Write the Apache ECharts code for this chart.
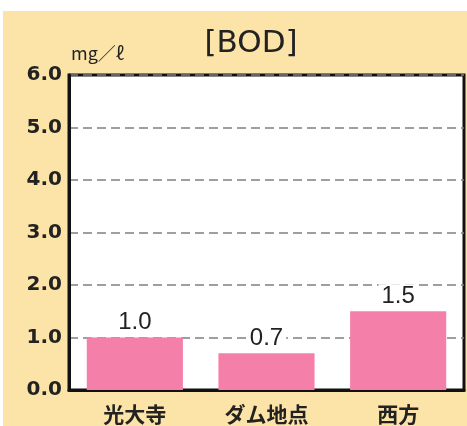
<!DOCTYPE html>
<html>
<head>
<meta charset="utf-8">
<script src="https://cdn.jsdelivr.net/npm/echarts@6/dist/echarts.min.js"></script>
<style>
  html, body { margin: 0; padding: 0; background: #fff; }
  #main { width: 467px; height: 426px; }
</style>
</head>
<body>
<div id="main"></div>
<script>
// 観測地点とBOD値
const categories = ['光大寺', 'ダム地点', '西方'];
const bodValues = [1.0, 0.7, 1.5];
const yTicks = [0, 1, 2, 3, 4, 5, 6];

const myChart = echarts.init(document.getElementById('main'));

const option = {
  backgroundColor: '#fff',
  animation: false,
  graphic: [
    {
      type: 'rect',
      z: -10,
      shape: { x: 3, y: 11, width: 470, height: 420 },
      style: { fill: '#FCE3A8' }
    },
    {
      type: 'text',
      x: 71, y: 53,
      style: { text: 'mg／ℓ', font: '18px "Noto Sans CJK JP"', fill: '#222', textVerticalAlign: 'middle' }
    },
    {
      type: 'text',
      x: 251, y: 44,
      style: { text: '[BOD]', font: '31px "DejaVu Sans"', fill: '#222', textAlign: 'center', textVerticalAlign: 'middle' }
    }
  ],
  grid: {
    left: 69, right: 3, top: 75, bottom: 36,
    show: true,
    backgroundColor: '#fff',
    borderColor: '#111',
    borderWidth: 3
  },
  xAxis: {
    type: 'category',
    data: categories,
    axisTick: { show: false },
    axisLine: { show: true, lineStyle: { color: '#111', width: 3 } },
    axisLabel: {
      color: '#222',
      fontSize: 21,
      fontWeight: 'bold',
      fontFamily: '"Noto Sans CJK JP"',
      margin: 14
    }
  },
  yAxis: {
    type: 'value',
    min: yTicks[0],
    max: yTicks[yTicks.length - 1],
    interval: 1,
    axisTick: { show: false },
    axisLine: { show: true, lineStyle: { color: '#111', width: 3 } },
    axisLabel: {
      color: '#222',
      fontSize: 20,
      fontWeight: 'bold',
      fontFamily: 'DejaVu Sans',
      margin: 7,
      formatter: v => v.toFixed(1)
    },
    splitLine: {
      lineStyle: { color: '#808080', type: [9, 5], width: 1.5 }
    }
  },
  series: [{
    type: 'bar',
    data: bodValues,
    barWidth: '73%',
    itemStyle: { color: '#F47FA9' },
    label: {
      show: true,
      position: 'top',
      distance: 3,
      color: '#222',
      fontSize: 24,
      fontFamily: 'Liberation Sans',
      backgroundColor: '#fff',
      padding: [0, 3],
      formatter: p => p.value.toFixed(1)
    }
  }]
};

myChart.setOption(option);
</script>
</body>
</html>
